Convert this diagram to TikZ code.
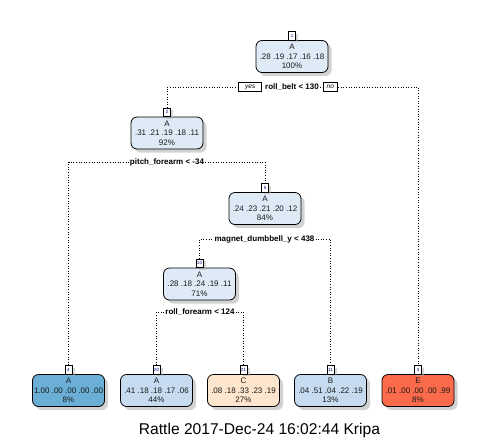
\documentclass[tikz,border=0pt]{standalone}
\usepackage{fontspec}
\setmainfont{Liberation Sans}
\usetikzlibrary{shadows,backgrounds}
\definecolor{innerblue}{HTML}{DEEBF7}
\definecolor{leafA}{HTML}{6BAED6}
\definecolor{leafpale}{HTML}{C6DBEF}
\definecolor{leafC}{HTML}{FEE6CE}
\definecolor{leafE}{HTML}{FB6A4A}
\begin{document}
\begin{tikzpicture}[x=1pt,y=-1pt,
    box/.style={draw,line width=0.8pt,rounded corners=6pt,minimum width=72pt,minimum height=32pt,
      inner sep=1pt,align=center,font=\fontsize{8}{9.5}\selectfont,text=black!90,
      drop shadow={shadow xshift=3.5pt,shadow yshift=-3.5pt,fill=black!35}},
    num/.style={draw,fill=white,line width=0.6pt,inner sep=0.8pt,minimum width=7pt,minimum height=8.5pt,
      font=\fontsize{4.5}{5}\selectfont,text=blue!50!black,
      drop shadow={shadow xshift=2.5pt,shadow yshift=-2.5pt,fill=black!30}},
    split/.style={fill=white,inner sep=1pt,font=\bfseries\fontsize{8}{9}\selectfont},
    yn/.style={draw,fill=white,line width=0.6pt,inner sep=1pt,minimum height=8.5pt,
      font=\itshape\fontsize{6.5}{7}\selectfont},
    branch/.style={dotted,line width=0.6pt}]
    \useasboundingbox (0,0) rectangle (485,440);
    % inner nodes
    \node[box,fill=innerblue] (n1) at (292,56.5) {A\\.28 .19 .17 .16 .18\\100\%};
    \node[box,fill=innerblue] (n2) at (167,133) {A\\.31 .21 .19 .18 .11\\92\%};
    \node[box,fill=innerblue] (n5) at (265,208.5) {A\\.24 .23 .21 .20 .12\\84\%};
    \node[box,fill=innerblue] (n10) at (199.5,284) {A\\.28 .18 .24 .19 .11\\71\%};
    % leaves
    \node[box,fill=leafA] (n4) at (68.5,390.5) {A\\1.00 .00 .00 .00 .00\\8\%};
    \node[box,fill=leafpale] (n20) at (156.5,390.5) {A\\.41 .18 .18 .17 .06\\44\%};
    \node[box,fill=leafC] (n21) at (243.5,390.5) {C\\.08 .18 .33 .23 .19\\27\%};
    \node[box,fill=leafpale] (n11) at (330.5,390.5) {B\\.04 .51 .04 .22 .19\\13\%};
    \node[box,fill=leafE] (n3) at (418,390.5) {E\\.01 .00 .00 .00 .99\\8\%};
    % node numbers
    \foreach \n in {1,2,3,4,5,10,11,20,21}
        \node[num,anchor=south] (l\n) at (n\n.north) {\n};
    % split labels
    \node[split] (s1) at (292,87) {roll\_belt < 130};
    \node[yn,minimum width=23pt,anchor=east] (yes) at ([xshift=-2pt]s1.west) {yes};
    \node[yn,minimum width=14pt,anchor=west] (no) at ([xshift=3pt]s1.east) {no};
    \node[split] (s2) at (167,162) {pitch\_forearm < -34};
    \node[split] (s5) at (264.5,239) {magnet\_dumbbell\_y < 438};
    \node[split] (s10) at (200,312) {roll\_forearm < 124};
    \begin{scope}[on background layer]
        \draw[branch] (l2.north) |- (s1) -| (l3.north);
        \draw[branch] (l4.north) |- (s2) -| (l5.north);
        \draw[branch] (l10.north) |- (s5) -| (l11.north);
        \draw[branch] (l20.north) |- (s10) -| (l21.north);
    \end{scope}
    \node[font=\fontsize{15.6}{18}\selectfont,anchor=base] (title) at (259.5,434) {Rattle 2017-Dec-24 16:02:44 Kripa};
\end{tikzpicture}
\end{document}
